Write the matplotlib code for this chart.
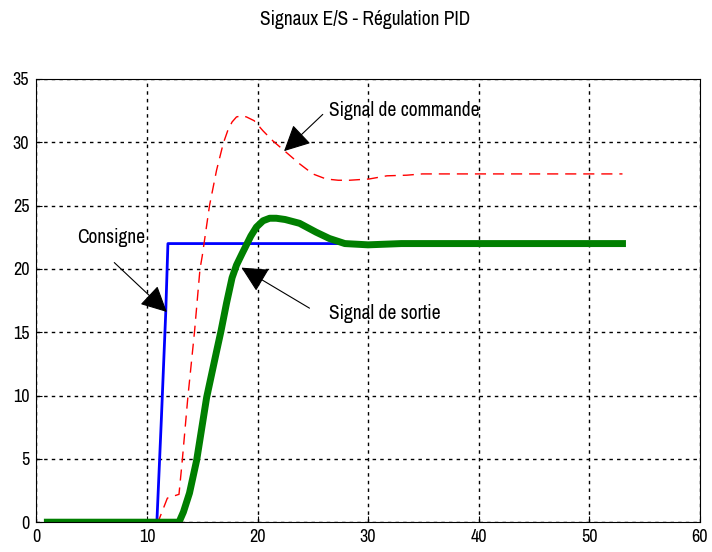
import matplotlib.pyplot as plt
from matplotlib import font_manager

# Consigne (setpoint)
x_consigne = [1, 10.9, 11.3, 11.7, 11.9, 33.0]
y_consigne = [0, 0, 8.0, 16.5, 22.0, 22.0]

# Signal de commande (control signal)
x_commande = [1, 11.0, 11.85, 12.9, 13.2, 13.7, 14.3, 14.8, 15.0, 15.66, 16.3, 16.9, 17.3,
              17.7, 18.1, 18.6, 19.0, 19.7, 20.5, 21.4, 22.6, 23.8, 25.0, 26.2, 27.3, 28.3,
              30.1, 31.7, 33.5, 34.9, 38.0, 53.0]
y_commande = [0, 0, 1.9, 2.2, 4.9, 9.85, 15.0, 20.0, 21.0, 25.0, 27.8, 29.9, 30.9,
              31.6, 32.0, 32.1, 32.0, 31.7, 30.9, 30.1, 29.2, 28.3, 27.5, 27.1, 27.0, 27.0,
              27.1, 27.35, 27.4, 27.5, 27.5, 27.5]

# Signal de sortie (output)
x_sortie = [1, 12.9, 13.3, 13.85, 14.5, 15.4, 16.3, 16.7, 17.2, 17.7, 18.1, 18.6, 19.0,
            19.4, 19.9, 20.5, 21.1, 21.7, 22.5, 23.8, 25.3, 26.5, 27.9, 30.0, 33.0, 53.0]
y_sortie = [0, 0, 0.8, 2.3, 4.9, 9.85, 13.5, 15.1, 17.3, 19.3, 20.3, 21.2, 21.9,
            22.6, 23.3, 23.8, 24.0, 24.0, 23.9, 23.6, 22.9, 22.4, 22.0, 21.9, 22.0, 22.0]

# pick a narrow sans font if one is installed
names = sorted({f.name for f in font_manager.fontManager.ttflist})
narrow = [n for n in names if 'Narrow' in n] + [n for n in names if 'Condensed' in n]
font = narrow[:1] + ['Liberation Sans', 'DejaVu Sans']

fig = plt.figure(figsize=(7.12, 5.52), dpi=100)
ax = fig.add_axes([0.051, 0.054, 0.932, 0.803])

ax.plot(x_consigne, y_consigne, color='#0000ff', linewidth=2)
ax.plot(x_commande, y_commande, color='#ff0000', linewidth=1, linestyle=(0, (8, 5)))
ax.plot(x_sortie, y_sortie, color='#007f00', linewidth=5)

ax.set_xlim(0, 60)
ax.set_ylim(0, 35)
ax.set_xticks(range(0, 61, 10))
ax.set_yticks(range(0, 36, 5))
ax.tick_params(direction='in', labelsize=13, length=4, pad=5)
ax.grid(True, color='black', linestyle=(0, (2.5, 3)), linewidth=1)
ax.set_axisbelow(True)
for lbl in ax.get_xticklabels() + ax.get_yticklabels():
    lbl.set_family(font)

fig.text(0.513, 0.964, 'Signaux E/S - Régulation PID', ha='center', va='center',
         fontsize=14, family=font)

ax.text(3.7, 22.5, 'Consigne', fontsize=14, family=font, va='center')
ax.text(26.5, 32.5, 'Signal de commande', fontsize=14, family=font, va='center')
ax.text(26.5, 16.5, 'Signal de sortie', fontsize=14, family=font, va='center')

arrow = dict(arrowstyle='-|>,head_length=0.9,head_width=0.45', color='black',
             linewidth=0.8, mutation_scale=18, shrinkA=0, shrinkB=0)
ax.annotate('', xy=(11.8, 16.6), xytext=(7.05, 20.5), arrowprops=arrow)
ax.annotate('', xy=(22.4, 29.3), xytext=(25.9, 32.2), arrowprops=arrow)
ax.annotate('', xy=(18.55, 20.1), xytext=(24.7, 16.9), arrowprops=arrow)

fig.savefig('out.png', dpi=100)
